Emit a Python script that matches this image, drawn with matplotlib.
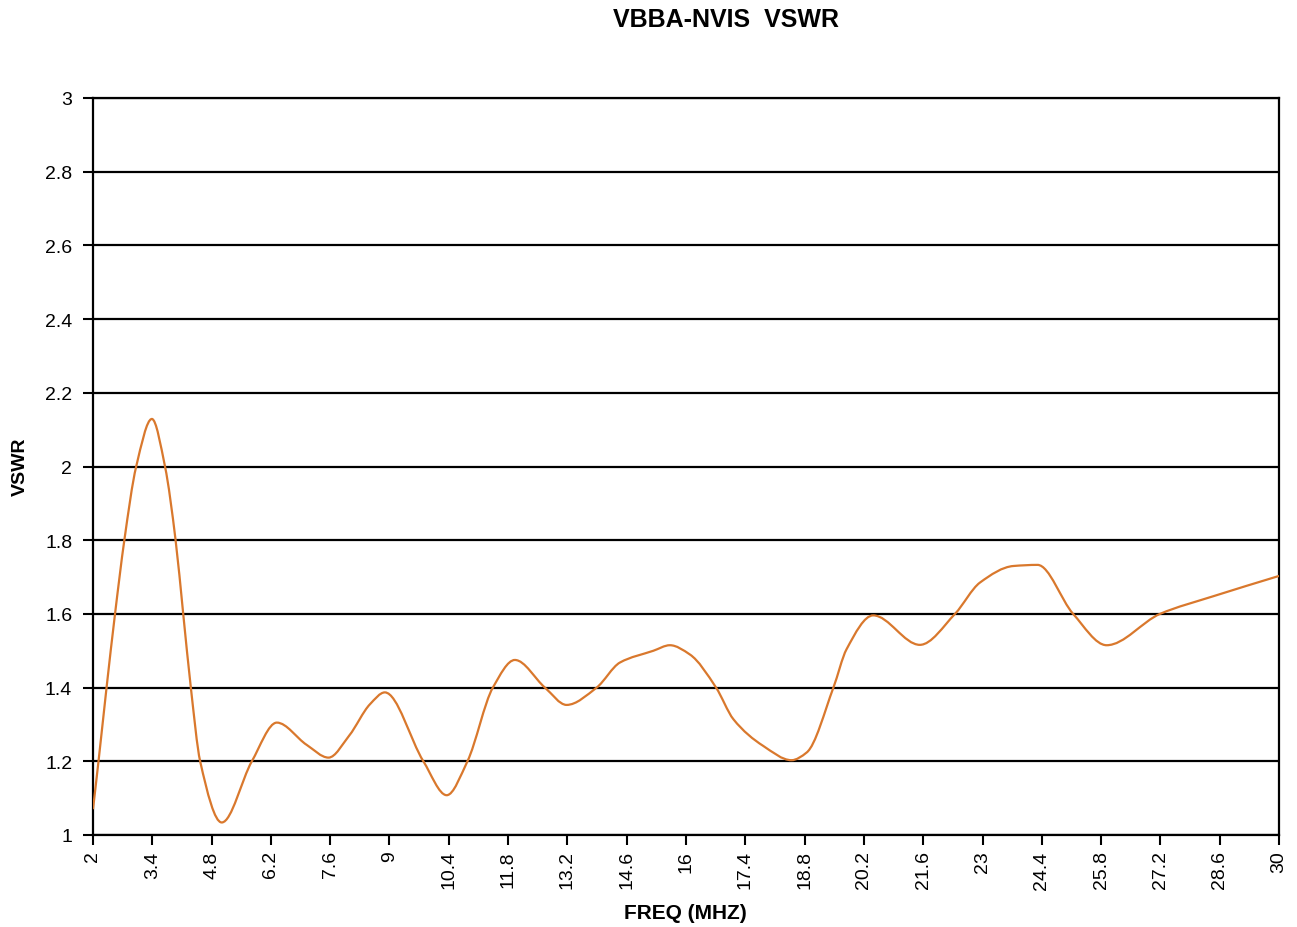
import matplotlib
matplotlib.use("Agg")
import matplotlib.pyplot as plt
from matplotlib.path import Path
from matplotlib.patches import PathPatch
import numpy as np

title = "VBBA-NVIS  VSWR"
x_label = "FREQ (MHZ)"
y_label = "VSWR"

# points (frequency in MHz, VSWR)
freq = [2.00, 2.13, 2.32, 2.52, 2.74, 3.02, 3.39, 3.70, 3.95, 4.13, 4.31, 4.53,
        5.04, 5.75, 6.34, 7.04, 7.56, 8.05, 8.54, 8.89, 9.80, 10.35, 10.84,
        11.44, 11.96, 12.67, 13.18, 13.89, 14.44, 15.23, 15.62, 16.09, 16.71,
        17.12, 17.82, 18.49, 18.85, 19.48, 19.79, 20.42, 21.52, 22.35, 22.94,
        23.73, 24.30, 25.14, 25.93, 27.19, 28.45, 30.00]
vswr = [1.07, 1.20, 1.40, 1.60, 1.80, 2.00, 2.129, 2.00, 1.80, 1.60, 1.40, 1.20,
        1.034, 1.20, 1.305, 1.245, 1.21, 1.27, 1.355, 1.387, 1.20, 1.108, 1.20,
        1.40, 1.475, 1.40, 1.353, 1.40, 1.468, 1.50, 1.515, 1.49, 1.40,
        1.314, 1.242, 1.203, 1.224, 1.40, 1.504, 1.596, 1.516, 1.60, 1.685,
        1.730, 1.733, 1.60, 1.515, 1.60, 1.648, 1.703]

x_ticks = [2, 3.4, 4.8, 6.2, 7.6, 9, 10.4, 11.8, 13.2, 14.6, 16, 17.4, 18.8,
           20.2, 21.6, 23, 24.4, 25.8, 27.2, 28.6, 30]
x_tick_labels = ["2", "3.4", "4.8", "6.2", "7.6", "9", "10.4", "11.8", "13.2",
                 "14.6", "16", "17.4", "18.8", "20.2", "21.6", "23", "24.4",
                 "25.8", "27.2", "28.6", "30"]
y_ticks = [1, 1.2, 1.4, 1.6, 1.8, 2, 2.2, 2.4, 2.6, 2.8, 3]
y_tick_labels = ["1", "1.2", "1.4", "1.6", "1.8", "2", "2.2", "2.4", "2.6", "2.8", "3"]

plt.rcParams['font.family'] = ['Liberation Sans', 'DejaVu Sans']

fig = plt.figure(figsize=(12.97, 9.28), dpi=100)
ax = fig.add_axes([93/1297, 1-836/928, (1279-93)/1297, (836-99)/928])

# smoothed line: shape-preserving cubic Hermite segments drawn as Bezier curves
xs = np.asarray(freq, float)
ys = np.asarray(vswr, float)
n = len(xs)
h = np.diff(xs)
d = np.diff(ys) / h
m = np.zeros(n)
m[0] = d[0]
m[-1] = d[-1]
for i in range(1, n - 1):
    if d[i - 1] * d[i] <= 0:
        m[i] = 0.0
    else:
        w1 = 2 * h[i] + h[i - 1]
        w2 = h[i] + 2 * h[i - 1]
        m[i] = (w1 + w2) / (w1 / d[i - 1] + w2 / d[i])
verts = [(xs[0], ys[0])]
codes = [Path.MOVETO]
for i in range(n - 1):
    verts += [(xs[i] + h[i] / 3, ys[i] + m[i] * h[i] / 3),
              (xs[i + 1] - h[i] / 3, ys[i + 1] - m[i + 1] * h[i] / 3),
              (xs[i + 1], ys[i + 1])]
    codes += [Path.CURVE4] * 3
patch = PathPatch(Path(verts, codes), facecolor='none', edgecolor='#D9782D',
                  lw=1.6, zorder=3, clip_on=True)
ax.add_patch(patch)

ax.set_xlim(2, 30)
ax.set_ylim(1, 3)
ax.set_yticks(y_ticks)
ax.set_yticklabels(y_tick_labels, fontsize=14)
ax.set_xticks(x_ticks)
ax.set_xticklabels(x_tick_labels, rotation=90, fontsize=14)
ax.yaxis.grid(True, color='black', lw=1.6)
ax.set_axisbelow(True)
ax.tick_params(axis='both', direction='out', length=7, width=1.5, color='black')
ax.tick_params(axis='y', pad=8)
ax.tick_params(axis='x', pad=4)
for s in ax.spines.values():
    s.set_linewidth(1.6)
    s.set_color('black')

fig.text(685/1297, 1-914/928, x_label, fontsize=15, fontweight='bold',
         ha='center', va='center')
fig.text(20/1297, 1-467/928, y_label, fontsize=14, fontweight='bold',
         ha='center', va='center', rotation=90)
fig.text(726/1297, 1-20/928, title, fontsize=18, fontweight='bold',
         ha='center', va='center')

fig.savefig("out.png", dpi=100, facecolor='white')
